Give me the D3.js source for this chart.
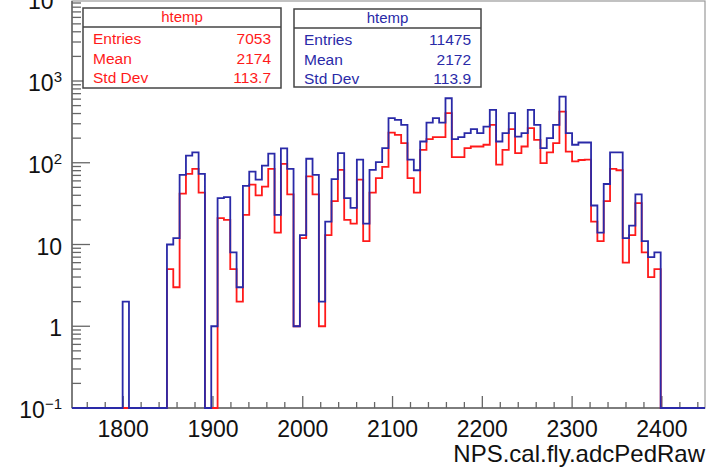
<!DOCTYPE html>
<html>
<head>
<meta charset="utf-8">
<script src="https://cdn.jsdelivr.net/npm/d3@7"></script>
<style>
  body { margin: 0; background: #fff; }
  svg { font-family: "Liberation Sans", Arial, Helvetica, sans-serif; }
</style>
</head>
<body>
<div id="chart"></div>
<script>
// histogram range and binning (100 bins, as ROOT htemp)
var xMin = 1743, xMax = 2448, nBins = 100;

// bin contents, bin 0 .. 99
var blueCounts = [
  0, 0, 0, 0, 0, 0, 0, 0, 2, 0,
  0, 0, 0, 0, 0, 10, 12, 71, 122, 134,
  73, 0, 1, 37, 38, 8, 3, 52, 78, 62,
  92, 129, 23, 150, 84, 1, 13, 112, 71, 2,
  19, 63, 131, 37, 28, 109, 18, 82, 102, 151,
  351, 334, 291, 109, 81, 182, 310, 351, 310, 615,
  195, 206, 230, 258, 230, 277, 443, 182, 230, 404,
  209, 230, 443, 291, 151, 200, 291, 644, 230, 166,
  177, 177, 30, 14, 55, 134, 134, 12, 17, 41,
  11, 7, 8, 0, 0, 0, 0, 0, 0, 0
];
var redCounts = [
  0, 0, 0, 0, 0, 0, 0, 0, 0, 0,
  0, 0, 0, 0, 0, 5, 3, 42, 73, 84,
  43, 0, 0, 21, 20, 5, 2, 23, 54, 40,
  51, 84, 14, 97, 41, 1, 12, 68, 41, 1,
  13, 34, 82, 20, 18, 62, 11, 43, 65, 89,
  234, 219, 174, 65, 43, 144, 195, 206, 206, 404,
  117, 117, 151, 158, 158, 166, 291, 95, 144, 258,
  131, 158, 265, 190, 99, 134, 174, 423, 137, 104,
  108, 109, 19, 11, 34, 84, 81, 6, 13, 32,
  8, 4, 5, 0, 0, 0, 0, 0, 0, 0
];

var xTickValues = [1800, 1900, 2000, 2100, 2200, 2300, 2400];
var yTickValues = [0.1, 1, 10, 100, 1000, 10000];
var yTickLabels = [["10", "\u22121"], ["1", ""], ["10", ""], ["10", "2"], ["10", "3"], ["10", "4"]];

var redStats = [["Entries", "7053"], ["Mean", "2174"], ["Std Dev", "113.7"]];
var blueStats = [["Entries", "11475"], ["Mean", "2172"], ["Std Dev", "113.9"]];

var red = "#ff1a1a", blue = "#2a2aa8", axisColor = "#666";

var width = 711, height = 471;
var frame = {left: 72, right: 705, top: 1, bottom: 408};

var svg = d3.select("#chart").append("svg").attr("width", width).attr("height", height);

var x = d3.scaleLinear().domain([xMin, xMax]).range([frame.left, frame.right]);
var y = d3.scaleLog().domain([0.1, 9520]).range([frame.bottom, frame.top]);

var binWidth = (xMax - xMin) / nBins;

function histPoints(counts) {
  var pts = counts.map(function(c, i) {
    return [xMin + i * binWidth, Math.max(c, 0.1)];
  });
  pts.push([xMax, Math.max(counts[counts.length - 1], 0.1)]);
  return pts;
}

var line = d3.line()
  .x(function(d) { return x(d[0]); })
  .y(function(d) { return y(d[1]); })
  .curve(d3.curveStepAfter);

// frame
svg.append("rect")
  .attr("x", frame.left).attr("y", frame.top)
  .attr("width", frame.right - frame.left).attr("height", frame.bottom - frame.top)
  .attr("fill", "none").attr("stroke", "#999").attr("stroke-width", 1.2);

// x ticks
var xMinor = d3.range(1760, 2441, 20);
var gx = svg.append("g");
gx.selectAll("line").data(xMinor).enter().append("line")
  .attr("x1", function(d) { return x(d); }).attr("x2", function(d) { return x(d); })
  .attr("y1", frame.bottom)
  .attr("y2", function(d) { return d % 100 === 0 ? frame.bottom - 12 : frame.bottom - 6; })
  .attr("stroke", axisColor).attr("stroke-width", 1.3);
gx.selectAll("text").data(xTickValues).enter().append("text")
  .attr("x", function(d) { return x(d); }).attr("y", 437)
  .attr("text-anchor", "middle").attr("font-size", 23).attr("fill", "#111")
  .text(function(d) { return d; });

// y ticks (log)
var yMinor = [];
[0.1, 1, 10, 100, 1000].forEach(function(dec) {
  for (var k = 2; k <= 9; k++) yMinor.push(dec * k);
});
var gy = svg.append("g");
gy.selectAll("line.minor").data(yMinor).enter().append("line").attr("class", "minor")
  .attr("x1", frame.left).attr("x2", frame.left + 9)
  .attr("y1", function(d) { return y(d); }).attr("y2", function(d) { return y(d); })
  .attr("stroke", axisColor).attr("stroke-width", 1.3);
gy.selectAll("line.major").data(yTickValues).enter().append("line").attr("class", "major")
  .attr("x1", frame.left).attr("x2", frame.left + 18)
  .attr("y1", function(d) { return y(d); }).attr("y2", function(d) { return y(d); })
  .attr("stroke", axisColor).attr("stroke-width", 1.3);
var yl = gy.selectAll("text").data(yTickValues).enter().append("text")
  .attr("x", 62).attr("y", function(d) { return y(d) + 10; })
  .attr("text-anchor", "end").attr("font-size", 23).attr("fill", "#111");
yl.append("tspan").text(function(d, i) { return yTickLabels[i][0]; });
yl.append("tspan").attr("dy", -9).attr("font-size", 15)
  .text(function(d, i) { return yTickLabels[i][1]; });

// axis lines
svg.append("line").attr("x1", frame.left).attr("x2", frame.right)
  .attr("y1", frame.bottom).attr("y2", frame.bottom)
  .attr("stroke", axisColor).attr("stroke-width", 1.5);
svg.append("line").attr("x1", frame.left).attr("x2", frame.left)
  .attr("y1", frame.top).attr("y2", frame.bottom)
  .attr("stroke", axisColor).attr("stroke-width", 1.5);

// histograms
svg.append("path").attr("d", line(histPoints(redCounts)))
  .attr("fill", "none").attr("stroke", red).attr("stroke-width", 1.8);
svg.append("path").attr("d", line(histPoints(blueCounts)))
  .attr("fill", "none").attr("stroke", blue).attr("stroke-width", 1.8);

// x title
svg.append("text").attr("x", frame.right).attr("y", 462)
  .attr("text-anchor", "end").attr("font-size", 24).attr("fill", "#111")
  .text("NPS.cal.fly.adcPedRaw");

// stat boxes
function statBox(bx, by, bw, bh, color, rows) {
  var g = svg.append("g").attr("transform", "translate(" + bx + "," + by + ")");
  g.append("rect").attr("width", bw).attr("height", bh)
    .attr("fill", "#fff").attr("stroke", "#444").attr("stroke-width", 1.5);
  g.append("line").attr("x1", 0).attr("x2", bw).attr("y1", 19).attr("y2", 19)
    .attr("stroke", "#444").attr("stroke-width", 1.5);
  g.append("text").attr("x", bw / 2).attr("y", 14).attr("text-anchor", "middle")
    .attr("font-size", 15).attr("fill", color).text("htemp");
  rows.forEach(function(r, i) {
    g.append("text").attr("x", 10).attr("y", 36 + i * 19.5)
      .attr("font-size", 15.5).attr("fill", color).text(r[0]);
    g.append("text").attr("x", bw - 10).attr("y", 36 + i * 19.5).attr("text-anchor", "end")
      .attr("font-size", 15.5).attr("fill", color).text(r[1]);
  });
}
statBox(83, 8, 198, 80, red, redStats);
statBox(294, 9, 187, 78, blue, blueStats);
</script>
</body>
</html>
